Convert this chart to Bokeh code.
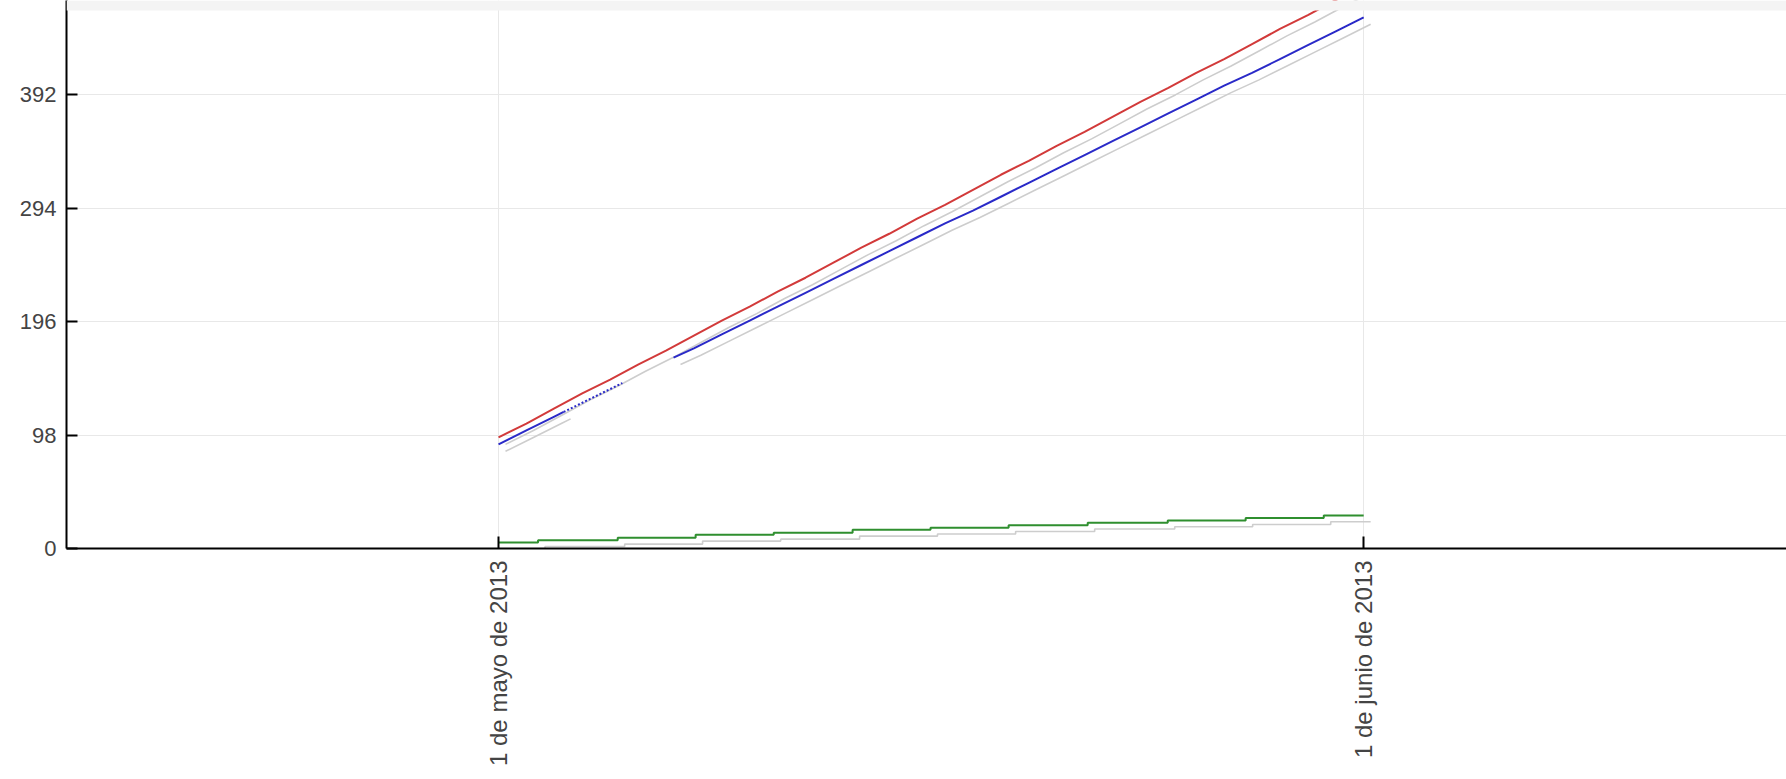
import math
import pandas as pd
from bokeh.plotting import figure
from bokeh.models import ColumnDataSource, FixedTicker, Range1d, BoxAnnotation
from bokeh.transform import dodge
from bokeh.embed import file_html
from bokeh.resources import INLINE

# ---- data ----
day_dates = pd.date_range("2013-05-01", "2013-06-01", freq="D")
red_values = [96, 108, 121, 134, 146, 159, 171, 184, 197, 209, 222, 234, 247, 260, 272, 285,
              297, 310, 323, 335, 348, 360, 373, 386, 398, 411, 423, 436, 449, 461, 474, 486]

blue_a_dates = ["2013-05-01 00:00", "2013-05-02 00:00", "2013-05-03 00:00", "2013-05-03 08:00"]
blue_a_values = [90, 102, 114, 118]
blue_b_dates = ["2013-05-03 08:00", "2013-05-05 10:30"]
blue_b_values = [118, 143]
blue_c_dates = ["2013-05-07 06:30"] + [d.strftime("%Y-%m-%d %H:%M") for d in pd.date_range("2013-05-08", "2013-06-01", freq="D")]
blue_c_values = [165, 173, 185, 197, 209, 221, 233, 245, 257, 269, 281, 292, 304, 316, 328, 340,
                 352, 364, 376, 388, 400, 411, 423, 435, 447, 459]

green_dates = ["2013-05-01 00:00", "2013-05-02 10:00", "2013-05-05 06:30", "2013-05-08 01:30",
               "2013-05-10 20:40", "2013-05-13 16:30", "2013-05-16 11:30", "2013-05-19 06:40",
               "2013-05-22 02:40", "2013-05-24 23:30", "2013-05-27 18:30", "2013-05-30 13:40",
               "2013-06-01 00:00"]
green_values = [5.2, 7.2, 9.3, 11.9, 13.6, 16.2, 18.0, 20.2, 22.3, 24.3, 26.3, 28.6, 28.6]

y_ticks = [0, 98, 196, 294, 392]
x_tick_dates = ["2013-05-01", "2013-06-01"]
x_tick_labels = ["1 de mayo de 2013", "1 de junio de 2013"]

def dt(lst):
    return pd.to_datetime(lst, format="mixed")

# ---- sources ----
src_red = ColumnDataSource(dict(x=day_dates, y=red_values))
src_ba = ColumnDataSource(dict(x=dt(blue_a_dates), y=blue_a_values))
src_bb = ColumnDataSource(dict(x=dt(blue_b_dates), y=blue_b_values))
src_bc = ColumnDataSource(dict(x=dt(blue_c_dates), y=blue_c_values))
src_green = ColumnDataSource(dict(x=dt(green_dates), y=green_values))

x0 = pd.Timestamp("2013-05-01") - pd.Timedelta(hours=15.48 * 24)
x1 = pd.Timestamp("2013-05-01") + pd.Timedelta(hours=46.15 * 24)

p = figure(width=1786, height=779, x_axis_type="datetime",
           x_range=Range1d(x0, x1), y_range=Range1d(0, 473.6),
           output_backend="svg", toolbar_location=None,
           min_border_left=66, min_border_right=0, min_border_top=0, min_border_bottom=231)
p.outline_line_color = None
p.background_fill_color = "white"
p.border_fill_color = "white"

# light header band at the very top of the page
band = BoxAnnotation(bottom=10, bottom_units="canvas",
                     fill_color="#f4f4f4", fill_alpha=1, line_color=None)
band.level = "overlay"
p.add_layout(band)

# shadows
SH_X = 6 * 3600 * 1000
SH_Y = -6
shadow = dict(line_color="#cdcdcd", line_width=1.6)
p.line(dodge("x", SH_X), dodge("y", SH_Y), source=src_red, **shadow)
for s in (src_ba, src_bc):
    p.line(dodge("x", SH_X), dodge("y", SH_Y), source=s, **shadow)
p.step(dodge("x", SH_X), dodge("y", -5.5), source=src_green, mode="after", **shadow)

# series
p.line("x", "y", source=src_red, line_color="#d23a3a", line_width=2)
p.line("x", "y", source=src_ba, line_color="#2a2ac8", line_width=2)
p.line("x", "y", source=src_bb, line_color="#2a2ac8", line_width=2, line_dash="2 2")
p.line("x", "y", source=src_bc, line_color="#2a2ac8", line_width=2)
p.step("x", "y", source=src_green, mode="after", line_color="#2f8f2f", line_width=2)

# axes
xt_ms = [pd.Timestamp(d).value / 1e6 for d in x_tick_dates]
p.xaxis.ticker = FixedTicker(ticks=xt_ms)
p.xaxis.major_label_overrides = {t: l for t, l in zip(xt_ms, x_tick_labels)}
p.xaxis.major_label_orientation = math.pi / 2
p.yaxis.ticker = FixedTicker(ticks=y_ticks)
p.xgrid.ticker = FixedTicker(ticks=xt_ms)

for ax in (p.xaxis[0], p.yaxis[0]):
    ax.axis_line_color = "black"
    ax.axis_line_width = 2
    ax.major_tick_line_color = "black"
    ax.major_tick_line_width = 2
    ax.major_tick_out = 0
    ax.minor_tick_line_color = None
    ax.major_label_text_font = "Liberation Sans"
    ax.major_label_text_color = "#444444"
p.xaxis.major_label_text_font_size = "24px"
p.yaxis.major_label_text_font_size = "22px"
p.xaxis.major_tick_in = 12
p.yaxis.major_tick_in = 11
p.xaxis.major_label_standoff = 12
p.yaxis.major_label_standoff = 10

p.xgrid.grid_line_color = "#e8e8e8"
p.ygrid.grid_line_color = "#e8e8e8"
p.xgrid.grid_line_width = 1
p.ygrid.grid_line_width = 1

open("out.html", "w").write(file_html(p, INLINE))
